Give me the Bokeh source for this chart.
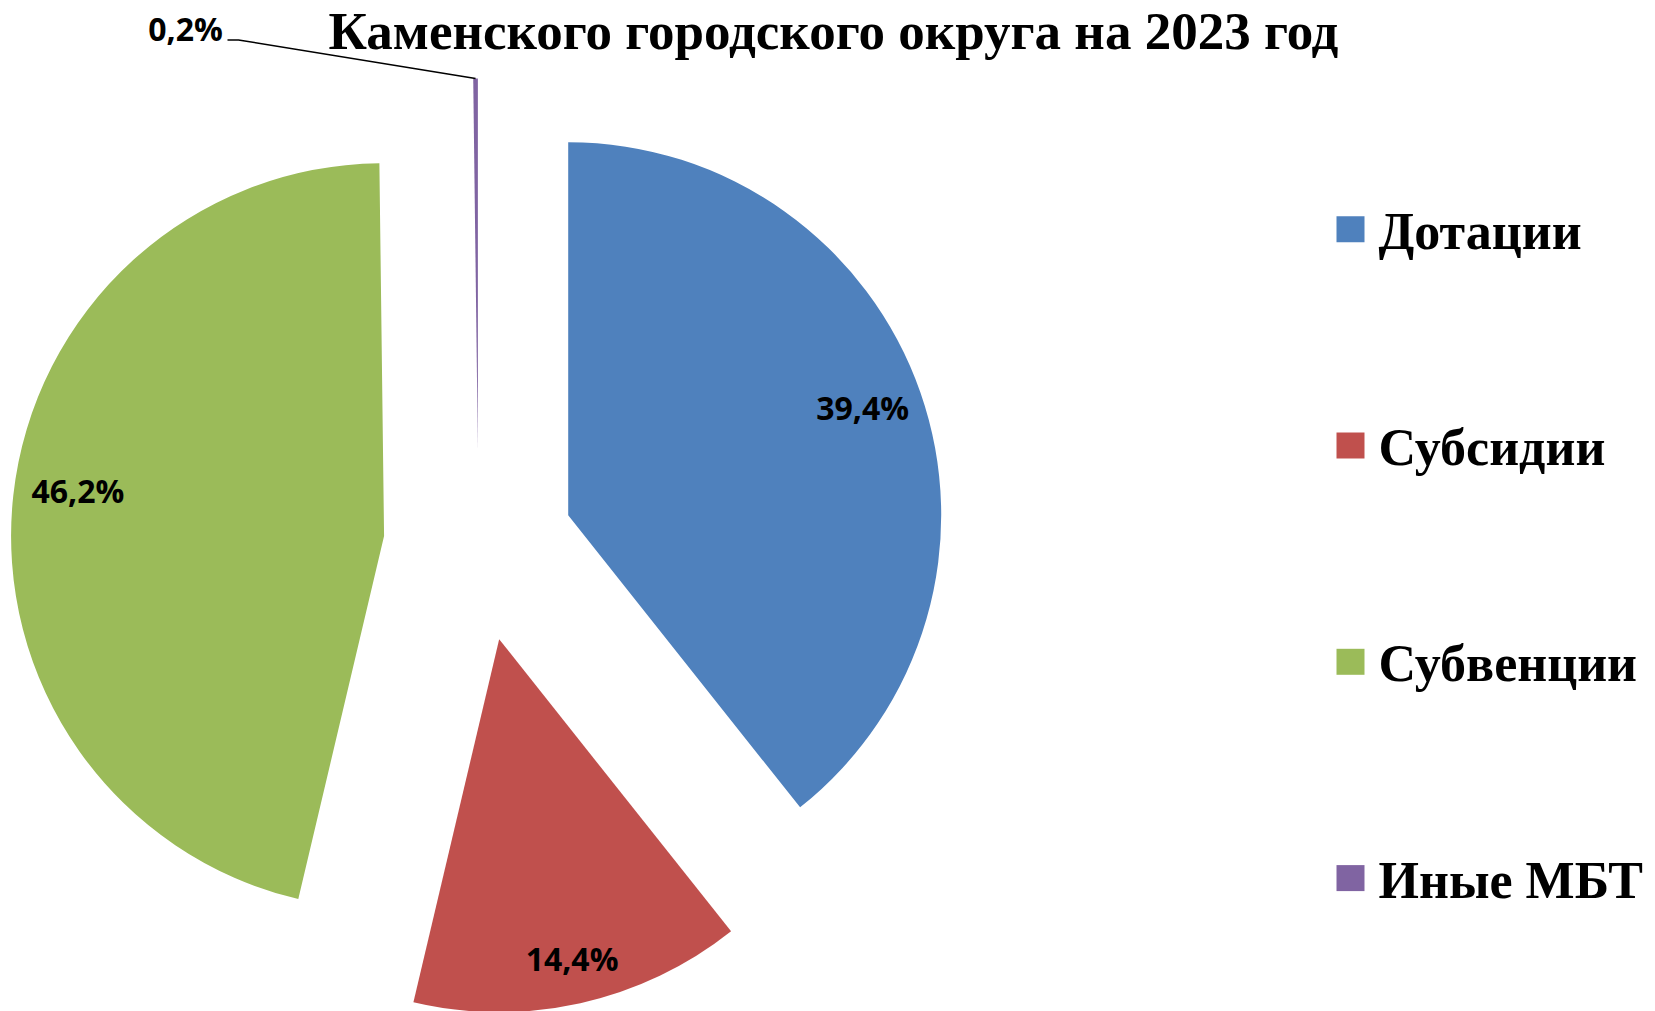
import math
from bokeh.plotting import figure
from bokeh.models import Range1d, ColumnDataSource
from bokeh.core.properties import value
from bokeh.embed import file_html
from bokeh.resources import INLINE

# ---- data ----
categories = ["Дотации", "Субсидии", "Субвенции", "Иные МБТ"]
shares = [39.4, 14.4, 46.2, 0.2]
labels = ["39,4%", "14,4%", "46,2%", "0,2%"]
colors = ["#4F81BD", "#C0504D", "#9BBB59", "#8064A2"]
title_text = "Каменского городского округа на 2023 год"

# ---- layout (pixel units, y measured downward, converted below) ----
W, H = 1655, 1011
OX, OY_PX = 478, 546          # pie centre before explosion
R = 373                       # radius
EXPLODE = 95                  # explosion distance
label_rfrac = [0.84, 0.877, 0.83]
label_dang = [-0.8, -0.3, 2.2]   # degrees, fine placement of inside labels

def Y(py):
    return H - py

p = figure(width=W, height=H, x_range=Range1d(0, W), y_range=Range1d(0, H),
           output_backend="svg", toolbar_location=None,
           x_axis_type=None, y_axis_type=None, min_border=0)
p.outline_line_color = None
p.grid.visible = False
p.background_fill_color = "white"
p.border_fill_color = "white"

total = sum(shares)
cx, cy, sa, ea, mids = [], [], [], [], []
c0 = 0.0
for s in shares:
    f0 = c0 / total
    f1 = (c0 + s) / total
    mid = math.pi * (f0 + f1)            # clockwise from top, radians
    cx.append(OX + EXPLODE * math.sin(mid))
    cy.append(Y(OY_PX) + EXPLODE * math.cos(mid))
    sa.append(math.pi / 2 - 2 * math.pi * f0)
    ea.append(math.pi / 2 - 2 * math.pi * f1)
    mids.append(mid)
    c0 += s

src = ColumnDataSource(dict(x=cx, y=cy, sa=sa, ea=ea, color=colors, cat=categories))
p.wedge(x="x", y="y", radius=R, start_angle="sa", end_angle="ea",
        direction="clock", fill_color="color", line_color=None, source=src)

# inside labels
lx, ly, lt = [], [], []
for i in range(3):
    rr = R * label_rfrac[i]
    a = mids[i] + math.radians(label_dang[i])
    lx.append(cx[i] + rr * math.sin(a))
    ly.append(cy[i] + rr * math.cos(a))
    lt.append(labels[i])
p.text(x=lx, y=ly, text=lt, text_align="center", text_baseline="middle",
       text_font=value("Open Sans"), text_font_style="bold",
       text_font_size="32px", text_color="black")

# small slice: outside label with leader line
tip_x = cx[3] + R * math.sin(mids[3])
tip_y = cy[3] + R * math.cos(mids[3])
p.line(x=[227, 238, tip_x], y=[Y(39.5), Y(39.5), tip_y], line_color="black", line_width=1.5)
p.text(x=[185], y=[Y(27.5)], text=[labels[3]], text_align="center", text_baseline="middle",
       text_font=value("Open Sans"), text_font_style="bold",
       text_font_size="32px", text_color="black")

# title
p.text(x=[833], y=[Y(1)], text=[title_text], text_align="center",
       text_baseline="top", text_font=value("Liberation Serif"),
       text_font_style="bold", text_font_size="53px", text_color="black")

# legend
leg_x, leg_y0, leg_step = 1350, 228.7, 216.3
ly_leg = [Y(leg_y0 + i * leg_step) for i in range(len(categories))]
p.rect(x=[leg_x] * 4, y=ly_leg, width=28, height=26, fill_color=colors, line_color=None)
p.text(x=[1378] * 4, y=[v - 2 for v in ly_leg], text=categories, text_align="left",
       text_baseline="middle", text_font=value("Liberation Serif"),
       text_font_style="bold", text_font_size="52px", text_color="black")

open("out.html", "w").write(file_html(p, INLINE))
